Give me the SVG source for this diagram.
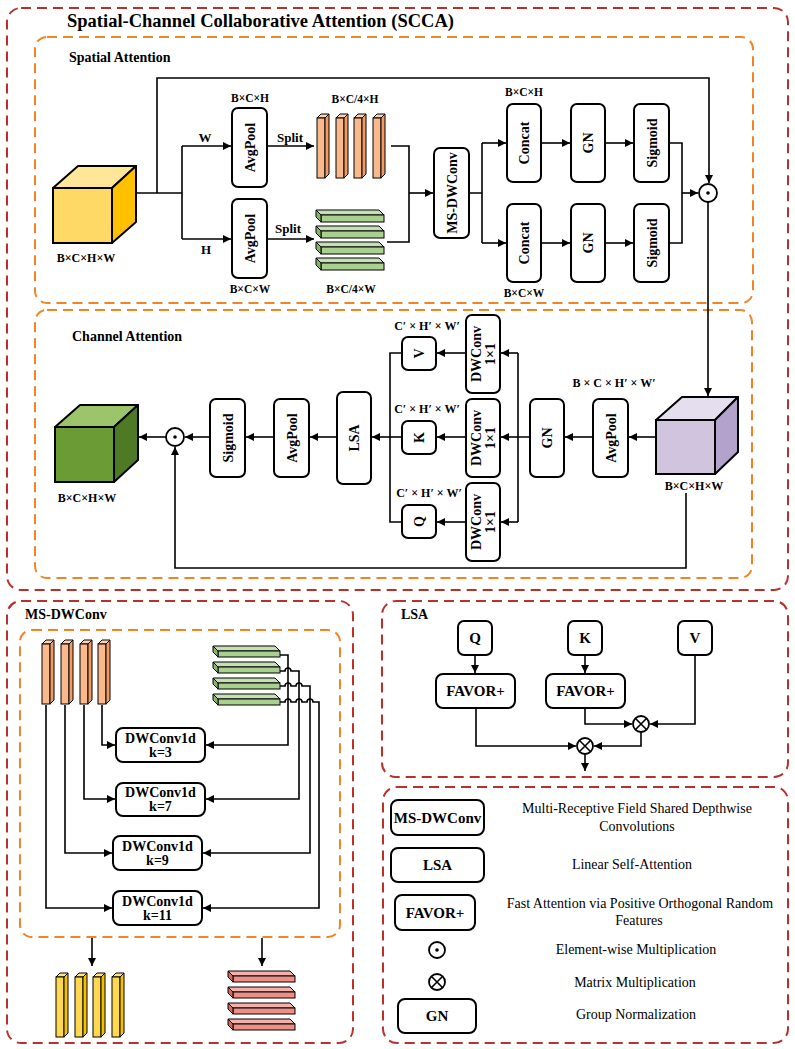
<svg xmlns="http://www.w3.org/2000/svg" xmlns:xlink="http://www.w3.org/1999/xlink" width="795" height="1049" viewBox="0 0 795 1049">
<style>
.t{font-family:"Liberation Serif","Times New Roman",serif;font-weight:bold;fill:#000}
.r{font-family:"Liberation Serif","Times New Roman",serif;font-weight:normal;fill:#000;font-size:14px}
.box{fill:#fff;stroke:#000;stroke-width:2}
.ln{fill:none;stroke:#000;stroke-width:1.6}
.a{marker-end:url(#ah)}
.red{fill:none;stroke:#b8322d;stroke-width:2;stroke-dasharray:10 6}
.org{fill:none;stroke:#f08426;stroke-width:2;stroke-dasharray:10 6}
.sym{fill:#fff;stroke:#000;stroke-width:1.8}
.bar{stroke:#000;stroke-width:1}
</style>
<defs>
<marker id="ah" viewBox="0 0 10 10" refX="10" refY="5" markerWidth="8" markerHeight="8" markerUnits="userSpaceOnUse" orient="auto"><path d="M0,0 L10,5 L0,10 z" fill="#000"/></marker>
<g id="vbarO"><polygon class="bar" points="0,4 4,0 12,0 8,4" fill="#fdd3b2"/><rect class="bar" x="0" y="4" width="8" height="60" fill="#f9b98d"/><polygon class="bar" points="8,4 12,0 12,60 8,64" fill="#f29a62"/></g>
<g id="vbarY"><polygon class="bar" points="0,4 4,0 12,0 8,4" fill="#ffe680"/><rect class="bar" x="0" y="4" width="8" height="60" fill="#ffd84d"/><polygon class="bar" points="8,4 12,0 12,60 8,64" fill="#f2c000"/></g>
<g id="hbarG"><polygon class="bar" points="0,0 62,0 67,5 5,5" fill="#c6e0b4"/><rect class="bar" x="5" y="5" width="62" height="6" fill="#a9d08e"/><polygon class="bar" points="0,0 5,5 5,11 0,6" fill="#86b564"/></g>
<g id="hbarG2"><polygon class="bar" points="0,0 63,0 68,5 5,5" fill="#c6e0b4"/><rect class="bar" x="5" y="5" width="63" height="7" fill="#a9d08e"/><polygon class="bar" points="0,0 5,5 5,12 0,7" fill="#86b564"/></g>
<g id="hbarR"><polygon class="bar" points="0,0 62,0 67,5 5,5" fill="#f4b0aa"/><rect class="bar" x="5" y="5" width="62" height="6" fill="#ee8f86"/><polygon class="bar" points="0,0 5,5 5,11 0,6" fill="#d9695f"/></g>
</defs>

<!-- frames -->
<g id="frames">
<rect class="red" x="7" y="8" width="781" height="582" rx="14"/>
<rect class="org" x="35" y="37" width="718" height="266" rx="12"/>
<rect class="org" x="35" y="310" width="717" height="268" rx="12"/>
<rect class="red" x="7" y="601" width="346" height="442" rx="14"/>
<rect class="org" x="20" y="630" width="320" height="307" rx="12"/>
<rect class="red" x="382" y="601" width="406" height="176" rx="14"/>
<rect class="red" x="383" y="787" width="405" height="256" rx="14"/>
<text class="t" x="67" y="27" font-size="18.5">Spatial-Channel Collaborative Attention (SCCA)</text>
<text class="t" x="69" y="62" font-size="14">Spatial Attention</text>
<text class="t" x="72" y="341" font-size="14">Channel Attention</text>
<text class="t" x="25" y="619" font-size="14">MS-DWConv</text>
<text class="t" x="401" y="619" font-size="14">LSA</text>
</g>

<!-- connectors -->
<g id="connectors">
<path class="ln" d="M136,193 H182"/>
<path class="ln a" d="M157,193 V78 H709 V183"/>
<path class="ln" d="M182,146 V239"/>
<path class="ln a" d="M182,146 H231"/>
<path class="ln a" d="M182,239 H231"/>
<path class="ln a" d="M268,146 H314"/>
<path class="ln a" d="M268,239 H314"/>
<path class="ln" d="M391,146 H409 V242 H387"/>
<path class="ln a" d="M409,193 H433"/>
<path class="ln" d="M469,193 H482 M482,143 V243"/>
<path class="ln a" d="M482,143 H506"/>
<path class="ln a" d="M482,243 H506"/>
<path class="ln a" d="M541,143 H570"/>
<path class="ln a" d="M541,243 H570"/>
<path class="ln a" d="M605,143 H633"/>
<path class="ln a" d="M605,243 H633"/>
<path class="ln" d="M669,143 H682 V243 H669"/>
<path class="ln a" d="M682,193 H698"/>
<path class="ln a" d="M708,202 V396"/>

<path class="ln a" d="M656,437 H629"/>
<path class="ln a" d="M593,437 H565"/>
<path class="ln" d="M530,437 H518 M518,353 V522"/>
<path class="ln a" d="M518,353 H501"/>
<path class="ln a" d="M518,437 H501"/>
<path class="ln a" d="M518,522 H501"/>
<path class="ln a" d="M466,353 H437"/>
<path class="ln a" d="M466,437 H437"/>
<path class="ln a" d="M466,522 H437"/>
<path class="ln" d="M402,353 H390 V522 H402"/>
<path class="ln a" d="M402,437 H372"/>
<path class="ln a" d="M337,437 H310"/>
<path class="ln a" d="M274,437 H246"/>
<path class="ln a" d="M210,437 H185"/>
<path class="ln a" d="M166,437 H139"/>
<path class="ln a" d="M686,493 V568 H175 V447"/>

<path class="ln a" d="M102,705 V745 H115"/>
<path class="ln a" d="M84,705 V799 H115"/>
<path class="ln a" d="M65,705 V853 H112"/>
<path class="ln a" d="M46,705 V908 H112"/>
<path class="ln a" d="M279,655 H288 V745 H206"/>
<path class="ln a" d="M279,671 H285 a3,3 0 0 1 6,0 H299 V799 H206"/>
<path class="ln a" d="M279,686 H285 a3,3 0 0 1 6,0 H296 a3,3 0 0 1 6,0 H310 V853 H203"/>
<path class="ln a" d="M279,702 H285 a3,3 0 0 1 6,0 H296 a3,3 0 0 1 6,0 H307 a3,3 0 0 1 6,0 H319 V908 H203"/>
<path class="ln a" d="M92,938 V966"/>
<path class="ln a" d="M262,938 V966"/>

<path class="ln a" d="M475,655 V673"/>
<path class="ln a" d="M585,655 V673"/>
<path class="ln a" d="M585,708 V724 H632"/>
<path class="ln a" d="M695,655 V724 H650"/>
<path class="ln a" d="M641,732 V746 H594"/>
<path class="ln a" d="M476,708 V746 H576"/>
<path class="ln a" d="M585,754 V771"/>
</g>

<!-- Spatial attention nodes -->
<g id="cube-yellow">
<rect x="53" y="188" width="59" height="55" fill="#ffd966" stroke="#000" stroke-width="2"/>
<polygon points="53,188 78,166 136,166 112,188" fill="#ffe699" stroke="#000" stroke-width="2" stroke-linejoin="round"/>
<polygon points="112,188 136,166 136,222 112,243" fill="#ffc000" stroke="#000" stroke-width="2" stroke-linejoin="round"/>
<text class="t" x="86" y="262" font-size="12" text-anchor="middle">B×C×H×W</text>
</g>
<g id="labels-sa">
<text class="t" x="205" y="142" font-size="13" text-anchor="middle">W</text>
<text class="t" x="206" y="254" font-size="13" text-anchor="middle">H</text>
<text class="t" x="290" y="142" font-size="13" text-anchor="middle">Split</text>
<text class="t" x="288" y="233" font-size="13" text-anchor="middle">Split</text>
</g>
<g id="avgpool-w">
<rect class="box" x="232" y="108" width="35" height="79" rx="6"/>
<text class="t" font-size="14" text-anchor="middle" transform="translate(250,147.5) rotate(-90)" y="5">AvgPool</text>
<text class="t" x="250" y="102" font-size="11.5" text-anchor="middle">B×C×H</text>
</g>
<g id="avgpool-h">
<rect class="box" x="232" y="199" width="35" height="79" rx="6"/>
<text class="t" font-size="14" text-anchor="middle" transform="translate(250,238.5) rotate(-90)" y="5">AvgPool</text>
<text class="t" x="250" y="293" font-size="11.5" text-anchor="middle">B×C×W</text>
</g>
<g id="bars-h">
<use xlink:href="#vbarO" x="317" y="114"/>
<use xlink:href="#vbarO" x="336" y="114"/>
<use xlink:href="#vbarO" x="354" y="114"/>
<use xlink:href="#vbarO" x="373" y="114"/>
<text class="t" x="355" y="103" font-size="11.5" text-anchor="middle">B×C/4×H</text>
</g>
<g id="bars-w">
<use xlink:href="#hbarG2" x="316" y="210"/>
<use xlink:href="#hbarG2" x="316" y="226"/>
<use xlink:href="#hbarG2" x="316" y="242"/>
<use xlink:href="#hbarG2" x="316" y="258"/>
<text class="t" x="351" y="293" font-size="11.5" text-anchor="middle">B×C/4×W</text>
</g>
<g id="msdwconv">
<rect class="box" x="434" y="148" width="35" height="90" rx="6"/>
<text class="t" font-size="14" text-anchor="middle" transform="translate(452,193) rotate(-90)" y="5">MS-DWConv</text>
</g>
<g id="concat-h">
<rect class="box" x="507" y="104" width="34" height="78" rx="6"/>
<text class="t" font-size="14" text-anchor="middle" transform="translate(524,143) rotate(-90)" y="5">Concat</text>
<text class="t" x="524" y="96" font-size="11.5" text-anchor="middle">B×C×H</text>
</g>
<g id="concat-w">
<rect class="box" x="507" y="204" width="34" height="78" rx="6"/>
<text class="t" font-size="14" text-anchor="middle" transform="translate(524,243) rotate(-90)" y="5">Concat</text>
<text class="t" x="524" y="297" font-size="11.5" text-anchor="middle">B×C×W</text>
</g>
<g id="gn-h">
<rect class="box" x="571" y="104" width="34" height="78" rx="6"/>
<text class="t" font-size="14" text-anchor="middle" transform="translate(588,143) rotate(-90)" y="5">GN</text>
</g>
<g id="gn-w">
<rect class="box" x="571" y="204" width="34" height="78" rx="6"/>
<text class="t" font-size="14" text-anchor="middle" transform="translate(588,243) rotate(-90)" y="5">GN</text>
</g>
<g id="sigmoid-h">
<rect class="box" x="634" y="104" width="35" height="78" rx="6"/>
<text class="t" font-size="14" text-anchor="middle" transform="translate(651.5,143) rotate(-90)" y="5">Sigmoid</text>
</g>
<g id="sigmoid-w">
<rect class="box" x="634" y="204" width="35" height="78" rx="6"/>
<text class="t" font-size="14" text-anchor="middle" transform="translate(651.5,243) rotate(-90)" y="5">Sigmoid</text>
</g>
<g id="odot-sa">
<circle class="sym" cx="708" cy="193" r="9"/><circle cx="708" cy="193" r="1.8" fill="#000"/>
</g>

<!-- Channel attention nodes -->
<g id="cube-purple">
<rect x="656" y="420" width="59" height="54" fill="#d1c4df" stroke="#000" stroke-width="2"/>
<polygon points="656,420 682,397 738,397 715,420" fill="#e5deef" stroke="#000" stroke-width="2" stroke-linejoin="round"/>
<polygon points="715,420 738,397 738,452 715,474" fill="#b3a2cb" stroke="#000" stroke-width="2" stroke-linejoin="round"/>
<text class="t" x="694" y="490" font-size="12" text-anchor="middle">B×C×H×W</text>
</g>
<g id="avgpool-ca">
<rect class="box" x="593" y="399" width="35" height="78" rx="6"/>
<text class="t" font-size="14" text-anchor="middle" transform="translate(610.5,438) rotate(-90)" y="5">AvgPool</text>
<text class="t" x="614" y="387" font-size="12" text-anchor="middle">B × C × H′ × W′</text>
</g>
<g id="gn-ca">
<rect class="box" x="530" y="399" width="34" height="78" rx="6"/>
<text class="t" font-size="14" text-anchor="middle" transform="translate(547,438) rotate(-90)" y="5">GN</text>
</g>
<g id="dwconv-v">
<rect class="box" x="466" y="315" width="34" height="78" rx="6"/>
<text class="t" font-size="14" text-anchor="middle" transform="translate(483,354) rotate(-90)"><tspan x="0" y="-2">DWConv</tspan><tspan x="0" y="12">1×1</tspan></text>
</g>
<g id="dwconv-k">
<rect class="box" x="466" y="399" width="34" height="78" rx="6"/>
<text class="t" font-size="14" text-anchor="middle" transform="translate(483,438) rotate(-90)"><tspan x="0" y="-2">DWConv</tspan><tspan x="0" y="12">1×1</tspan></text>
</g>
<g id="dwconv-q">
<rect class="box" x="466" y="483" width="34" height="78" rx="6"/>
<text class="t" font-size="14" text-anchor="middle" transform="translate(483,522) rotate(-90)"><tspan x="0" y="-2">DWConv</tspan><tspan x="0" y="12">1×1</tspan></text>
</g>
<g id="v-ca">
<rect class="box" x="402" y="337" width="34" height="33" rx="6"/>
<text class="t" font-size="14" text-anchor="middle" transform="translate(419,353.5) rotate(-90)" y="5">V</text>
<text class="t" x="427" y="330" font-size="12" text-anchor="middle">C′ × H′ × W′</text>
</g>
<g id="k-ca">
<rect class="box" x="402" y="421" width="34" height="33" rx="6"/>
<text class="t" font-size="14" text-anchor="middle" transform="translate(419,437.5) rotate(-90)" y="5">K</text>
<text class="t" x="427" y="413" font-size="12" text-anchor="middle">C′ × H′ × W′</text>
</g>
<g id="q-ca">
<rect class="box" x="402" y="505" width="34" height="33" rx="6"/>
<text class="t" font-size="14" text-anchor="middle" transform="translate(419,521.5) rotate(-90)" y="5">Q</text>
<text class="t" x="429" y="497" font-size="12" text-anchor="middle">C′ × H′ × W′</text>
</g>
<g id="lsa-ca">
<rect class="box" x="337" y="392" width="34" height="92" rx="6"/>
<text class="t" font-size="14" text-anchor="middle" transform="translate(354,438) rotate(-90)" y="5">LSA</text>
</g>
<g id="avgpool-ca2">
<rect class="box" x="274" y="399" width="35" height="78" rx="6"/>
<text class="t" font-size="14" text-anchor="middle" transform="translate(291.5,438) rotate(-90)" y="5">AvgPool</text>
</g>
<g id="sigmoid-ca">
<rect class="box" x="210" y="399" width="35" height="78" rx="6"/>
<text class="t" font-size="14" text-anchor="middle" transform="translate(227.5,438) rotate(-90)" y="5">Sigmoid</text>
</g>
<g id="odot-ca">
<circle class="sym" cx="175" cy="437" r="9"/><circle cx="175" cy="437" r="1.8" fill="#000"/>
</g>
<g id="cube-green">
<rect x="55" y="427" width="59" height="55" fill="#6b9b34" stroke="#000" stroke-width="2"/>
<polygon points="55,427 80,405 138,405 114,427" fill="#9cc46a" stroke="#000" stroke-width="2" stroke-linejoin="round"/>
<polygon points="114,427 138,405 138,460 114,482" fill="#4e7a26" stroke="#000" stroke-width="2" stroke-linejoin="round"/>
<text class="t" x="87" y="502" font-size="12" text-anchor="middle">B×C×H×W</text>
</g>

<!-- MS-DWConv panel -->
<g id="ms-bars-in">
<use xlink:href="#vbarO" x="42" y="640"/>
<use xlink:href="#vbarO" x="61" y="640"/>
<use xlink:href="#vbarO" x="80" y="640"/>
<use xlink:href="#vbarO" x="98" y="640"/>
<use xlink:href="#hbarG" x="213" y="646"/>
<use xlink:href="#hbarG" x="213" y="662"/>
<use xlink:href="#hbarG" x="213" y="678"/>
<use xlink:href="#hbarG" x="213" y="694"/>
</g>
<g id="dw-k3">
<rect class="box" x="116" y="728" width="89" height="34" rx="7"/>
<text class="t" font-size="14" text-anchor="middle" x="160.5" y="743">DWConv1d</text>
<text class="t" font-size="14" text-anchor="middle" x="160.5" y="757">k=3</text>
</g>
<g id="dw-k7">
<rect class="box" x="116" y="783" width="89" height="33" rx="7"/>
<text class="t" font-size="14" text-anchor="middle" x="160.5" y="797">DWConv1d</text>
<text class="t" font-size="14" text-anchor="middle" x="160.5" y="811">k=7</text>
</g>
<g id="dw-k9">
<rect class="box" x="113" y="836" width="89" height="34" rx="7"/>
<text class="t" font-size="14" text-anchor="middle" x="157.5" y="851">DWConv1d</text>
<text class="t" font-size="14" text-anchor="middle" x="157.5" y="865">k=9</text>
</g>
<g id="dw-k11">
<rect class="box" x="113" y="891" width="89" height="34" rx="7"/>
<text class="t" font-size="14" text-anchor="middle" x="157.5" y="906">DWConv1d</text>
<text class="t" font-size="14" text-anchor="middle" x="157.5" y="920">k=11</text>
</g>
<g id="ms-bars-out">
<use xlink:href="#vbarY" x="56" y="973"/>
<use xlink:href="#vbarY" x="75" y="973"/>
<use xlink:href="#vbarY" x="93" y="973"/>
<use xlink:href="#vbarY" x="112" y="973"/>
<use xlink:href="#hbarR" x="228" y="971"/>
<use xlink:href="#hbarR" x="228" y="987"/>
<use xlink:href="#hbarR" x="228" y="1003"/>
<use xlink:href="#hbarR" x="228" y="1019"/>
</g>

<!-- LSA panel -->
<g id="lsa-q"><rect class="box" x="458" y="621" width="34" height="34" rx="6"/><text class="t" font-size="15" text-anchor="middle" x="475" y="643">Q</text></g>
<g id="lsa-k"><rect class="box" x="568" y="621" width="34" height="34" rx="6"/><text class="t" font-size="15" text-anchor="middle" x="585" y="643">K</text></g>
<g id="lsa-v"><rect class="box" x="678" y="621" width="34" height="34" rx="6"/><text class="t" font-size="15" text-anchor="middle" x="695" y="643">V</text></g>
<g id="favor-q"><rect class="box" x="436" y="674" width="79" height="34" rx="7"/><text class="t" font-size="15" text-anchor="middle" x="475.5" y="696">FAVOR+</text></g>
<g id="favor-k"><rect class="box" x="546" y="674" width="79" height="34" rx="7"/><text class="t" font-size="15" text-anchor="middle" x="585.5" y="696">FAVOR+</text></g>
<g id="otimes-1"><circle class="sym" cx="641" cy="724" r="8"/><path class="ln" d="M635.3,718.3 L646.7,729.7 M646.7,718.3 L635.3,729.7"/></g>
<g id="otimes-2"><circle class="sym" cx="585" cy="746" r="8"/><path class="ln" d="M579.3,740.3 L590.7,751.7 M590.7,740.3 L579.3,751.7"/></g>

<!-- Legend -->
<g id="legend-msdw"><rect class="box" x="391" y="800" width="93" height="35" rx="7"/><text class="t" font-size="15" text-anchor="middle" x="437.5" y="823">MS-DWConv</text>
<text class="r" x="637" y="813" text-anchor="middle">Multi-Receptive Field Shared Depthwise</text>
<text class="r" x="637" y="831" text-anchor="middle">Convolutions</text></g>
<g id="legend-lsa"><rect class="box" x="391" y="848" width="93" height="34" rx="7"/><text class="t" font-size="15" text-anchor="middle" x="437.5" y="870">LSA</text>
<text class="r" x="632" y="869" text-anchor="middle">Linear Self-Attention</text></g>
<g id="legend-favor"><rect class="box" x="395" y="895" width="80" height="35" rx="7"/><text class="t" font-size="15" text-anchor="middle" x="435" y="918">FAVOR+</text>
<text class="r" x="640" y="908" text-anchor="middle">Fast Attention via Positive Orthogonal Random</text>
<text class="r" x="639" y="925" text-anchor="middle">Features</text></g>
<g id="legend-odot"><circle class="sym" cx="437" cy="950" r="8"/><circle cx="437" cy="950" r="1.8" fill="#000"/>
<text class="r" x="636" y="954" text-anchor="middle">Element-wise Multiplication</text></g>
<g id="legend-otimes"><circle class="sym" cx="437" cy="982" r="8"/><path class="ln" d="M431.3,976.3 L442.7,987.7 M442.7,976.3 L431.3,987.7"/>
<text class="r" x="635" y="987" text-anchor="middle">Matrix Multiplication</text></g>
<g id="legend-gn"><rect class="box" x="398" y="999" width="78" height="34" rx="7"/><text class="t" font-size="15" text-anchor="middle" x="437" y="1021">GN</text>
<text class="r" x="636" y="1019" text-anchor="middle">Group Normalization</text></g>
</svg>
